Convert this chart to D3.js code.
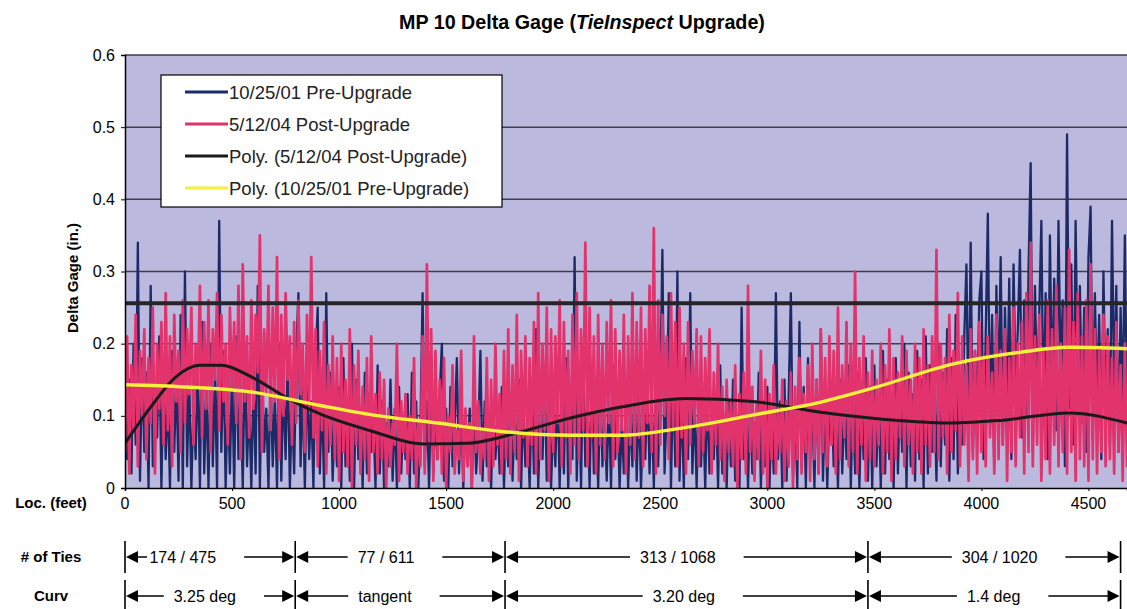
<!DOCTYPE html>
<html><head><meta charset="utf-8">
<script src="https://cdn.jsdelivr.net/npm/d3@7"></script>
<style>body{margin:0;background:#fff;} svg{display:block;font-family:Arial,"Liberation Sans",sans-serif;}</style>
</head><body><svg id="c" width="1127" height="609"></svg>
<script>
// ---------- data (readings every 10 ft) ----------
const stepFeet = 10;
const preValues = [
0.19,0.04,0.15,0.02,0.20,0.06,0.34,0.01,0.18,0.05,
0.16,0.00,0.28,0.03,0.14,0.07,0.21,0.00,0.17,0.04,
0.13,0.00,0.19,0.05,0.16,0.01,0.24,0.00,0.30,0.03,
0.15,0.00,0.12,0.04,0.18,0.00,0.23,0.02,0.14,0.00,
0.20,0.03,0.16,0.00,0.37,0.05,0.19,0.00,0.13,0.02,
0.17,0.00,0.21,0.04,0.14,0.00,0.19,0.03,0.12,0.00,
0.15,0.02,0.28,0.00,0.18,0.05,0.11,0.00,0.16,0.03,
0.13,0.00,0.20,0.01,0.15,0.04,0.18,0.00,0.12,0.02,
0.19,0.27,0.03,0.14,0.00,0.17,0.04,0.12,0.00,0.18,
0.25,0.02,0.13,0.00,0.27,0.05,0.16,0.01,0.11,0.03,
0.14,0.00,0.18,0.03,0.12,0.01,0.20,0.00,0.15,0.04,
0.11,0.00,0.16,0.02,0.13,0.05,0.10,0.00,0.17,0.02,
0.12,0.00,0.09,0.03,0.15,0.01,0.11,0.00,0.14,0.02,
0.10,0.04,0.13,0.00,0.16,0.02,0.12,0.00,0.09,0.27,
0.03,0.12,0.00,0.15,0.02,0.10,0.04,0.13,0.20,0.01,
0.11,0.00,0.14,0.03,0.09,0.18,0.02,0.12,0.00,0.10,
0.04,0.11,0.00,0.13,0.02,0.08,0.19,0.01,0.12,0.03,
0.09,0.00,0.12,0.04,0.10,0.02,0.14,0.00,0.11,0.03,
0.13,0.01,0.10,0.04,0.15,0.00,0.12,0.03,0.09,0.00,
0.14,0.02,0.22,0.00,0.11,0.04,0.16,0.01,0.12,0.00,
0.10,0.03,0.15,0.00,0.13,0.02,0.18,0.00,0.11,0.04,
0.32,0.01,0.14,0.00,0.19,0.03,0.12,0.00,0.16,0.02,
0.11,0.00,0.15,0.03,0.10,0.01,0.13,0.00,0.17,0.04,
0.12,0.00,0.09,0.02,0.14,0.00,0.11,0.03,0.16,0.01,
0.13,0.00,0.10,0.04,0.15,0.02,0.12,0.00,0.18,0.03,
0.14,0.33,0.02,0.11,0.27,0.00,0.16,0.03,0.30,0.01,
0.13,0.00,0.18,0.04,0.27,0.02,0.12,0.00,0.15,0.03,
0.11,0.00,0.14,0.02,0.10,0.04,0.13,0.00,0.17,0.02,
0.09,0.00,0.12,0.03,0.15,0.01,0.10,0.00,0.25,0.04,
0.11,0.00,0.13,0.02,0.09,0.04,0.16,0.00,0.12,0.03,
0.14,0.00,0.10,0.02,0.27,0.04,0.12,0.00,0.15,0.01,
0.13,0.27,0.02,0.11,0.00,0.23,0.03,0.14,0.00,0.18,
0.04,0.12,0.00,0.15,0.02,0.22,0.01,0.13,0.00,0.11,
0.14,0.03,0.10,0.00,0.15,0.02,0.12,0.04,0.17,0.00,
0.13,0.02,0.16,0.00,0.12,0.04,0.18,0.01,0.14,0.00,
0.17,0.03,0.13,0.00,0.19,0.02,0.15,0.04,0.12,0.00,
0.18,0.02,0.14,0.05,0.20,0.00,0.16,0.03,0.13,0.01,
0.19,0.04,0.15,0.00,0.21,0.02,0.17,0.05,0.14,0.01,
0.20,0.03,0.16,0.06,0.22,0.01,0.18,0.04,0.24,0.02,
0.15,0.06,0.21,0.31,0.08,0.34,0.05,0.19,0.10,0.26,
0.30,0.04,0.21,0.38,0.09,0.24,0.03,0.28,0.12,0.32,
0.06,0.25,0.11,0.29,0.04,0.31,0.14,0.22,0.33,0.07,
0.26,0.10,0.30,0.45,0.05,0.28,0.13,0.24,0.37,0.09,
0.27,0.04,0.35,0.12,0.29,0.08,0.37,0.15,0.26,0.03,
0.49,0.11,0.31,0.06,0.37,0.14,0.28,0.09,0.25,0.05,
0.32,0.39,0.07,0.27,0.12,0.24,0.04,0.30,0.10,0.22,
0.06,0.37,0.13,0.28,0.05,0.25,0.11,0.35,0.08,0.30];
const postValues = [
0.05,0.21,0.02,0.17,0.08,0.24,0.03,0.19,0.10,0.22,
0.04,0.18,0.09,0.25,0.02,0.20,0.11,0.23,0.06,0.27,
0.08,0.21,0.03,0.24,0.12,0.19,0.05,0.26,0.09,0.22,
0.13,0.25,0.06,0.20,0.14,0.28,0.07,0.23,0.11,0.26,
0.05,0.22,0.15,0.27,0.08,0.24,0.12,0.20,0.06,0.25,
0.14,0.23,0.09,0.28,0.04,0.31,0.12,0.21,0.07,0.26,
0.11,0.24,0.16,0.35,0.05,0.22,0.13,0.28,0.08,0.25,
0.12,0.32,0.04,0.24,0.10,0.27,0.15,0.21,0.06,0.23,
0.09,0.26,0.13,0.20,0.05,0.24,0.11,0.32,0.07,0.22,
0.03,0.19,0.08,0.23,0.02,0.17,0.06,0.21,0.04,0.18,
0.01,0.20,0.05,0.15,0.03,0.22,0.00,0.17,0.06,0.19,
0.02,0.14,0.04,0.18,0.01,0.21,0.05,0.13,0.02,0.16,
0.04,0.15,0.00,0.11,0.03,0.09,0.06,0.20,0.01,0.12,
0.05,0.13,0.02,0.10,0.04,0.18,0.00,0.09,0.03,0.21,
0.02,0.31,0.06,0.22,0.01,0.19,0.04,0.15,0.02,0.18,
0.00,0.10,0.05,0.17,0.02,0.08,0.04,0.19,0.01,0.11,
0.03,0.09,0.00,0.21,0.05,0.12,0.02,0.08,0.04,0.18,
0.01,0.15,0.03,0.20,0.06,0.13,0.02,0.19,0.04,0.22,
0.02,0.17,0.05,0.24,0.01,0.19,0.07,0.21,0.03,0.18,
0.06,0.23,0.02,0.27,0.04,0.20,0.08,0.25,0.01,0.22,
0.05,0.21,0.09,0.26,0.03,0.23,0.07,0.19,0.02,0.24,
0.06,0.27,0.04,0.22,0.08,0.34,0.03,0.25,0.07,0.21,
0.02,0.24,0.06,0.20,0.04,0.23,0.09,0.26,0.03,0.22,
0.05,0.19,0.08,0.24,0.02,0.21,0.06,0.27,0.04,0.23,
0.07,0.25,0.03,0.22,0.09,0.28,0.05,0.36,0.02,0.26,
0.06,0.24,0.10,0.21,0.04,0.27,0.08,0.23,0.03,0.25,
0.07,0.20,0.02,0.23,0.06,0.19,0.09,0.22,0.03,0.21,
0.05,0.18,0.08,0.22,0.02,0.16,0.06,0.20,0.04,0.14,
0.01,0.15,0.05,0.12,0.03,0.17,0.00,0.13,0.04,0.16,
0.02,0.28,0.05,0.14,0.01,0.12,0.04,0.19,0.02,0.15,
0.00,0.13,0.04,0.17,0.02,0.11,0.05,0.15,0.01,0.12,
0.03,0.16,0.00,0.14,0.04,0.18,0.02,0.13,0.05,0.17,
0.01,0.20,0.04,0.15,0.02,0.22,0.05,0.18,0.03,0.21,
0.06,0.19,0.02,0.25,0.04,0.17,0.07,0.23,0.03,0.20,
0.05,0.30,0.02,0.18,0.06,0.21,0.01,0.16,0.04,0.19,
0.03,0.15,0.06,0.20,0.02,0.17,0.05,0.22,0.01,0.18,
0.04,0.16,0.07,0.21,0.03,0.19,0.06,0.15,0.02,0.20,
0.05,0.18,0.02,0.22,0.06,0.17,0.03,0.21,0.05,0.33,
0.04,0.20,0.07,0.18,0.02,0.24,0.05,0.19,0.08,0.27,
0.03,0.21,0.06,0.17,0.01,0.22,0.04,0.19,0.02,0.23,
0.05,0.18,0.03,0.21,0.07,0.16,0.02,0.24,0.04,0.19,
0.06,0.22,0.01,0.18,0.05,0.25,0.03,0.20,0.07,0.23,
0.02,0.27,0.05,0.34,0.03,0.21,0.06,0.24,0.01,0.19,
0.04,0.26,0.02,0.22,0.06,0.28,0.03,0.20,0.05,0.25,
0.02,0.33,0.05,0.23,0.01,0.27,0.04,0.21,0.03,0.26,
0.01,0.31,0.04,0.22,0.02,0.19,0.05,0.24,0.03,0.21,
0.04,0.18,0.02,0.23,0.05,0.17,0.01,0.20,0.03,0.16];
const postPolyFeet   = [0,120,230,350,450,590,750,900,1150,1400,1600,1850,2080,2330,2620,2930,3250,3480,3860,4100,4410,4680];
const postPolyValues = [0.062,0.112,0.152,0.170,0.170,0.154,0.126,0.104,0.079,0.061,0.062,0.078,0.097,0.113,0.124,0.120,0.105,0.097,0.090,0.094,0.104,0.090];
const prePolyFeet    = [0,280,590,900,1160,1460,1770,2080,2310,2620,2930,3250,3500,3870,4180,4410,4680];
const prePolyValues  = [0.143,0.140,0.133,0.115,0.101,0.090,0.078,0.073,0.073,0.084,0.101,0.119,0.139,0.172,0.188,0.195,0.193];
const referenceLevel = 0.256;
const yTicks = [0,0.1,0.2,0.3,0.4,0.5,0.6];
const xTicks = [0,500,1000,1500,2000,2500,3000,3500,4000,4500];
const sectionBounds = [0,795,1775,3470,4650];
const tiesLabels = ["174 / 475","77 / 611","313 / 1068","304 / 1020"];
const tiesLabelAt = [270,1219,2582,4085];
const curvLabels = ["3.25 deg","tangent","3.20 deg","1.4 deg"];
const curvLabelAt = [373,1214,2610,4057];
const legendLabels = ["10/25/01 Pre-Upgrade","5/12/04 Post-Upgrade","Poly. (5/12/04 Post-Upgrade)","Poly. (10/25/01 Pre-Upgrade)"];
const rowLabels = ["Loc. (feet)","# of Ties","Curv"];

// ---------- layout ----------
const L=125,R=1127,T=55,B=488;
const col = {bg:"#bcb9df", pre:"#1d2a68", post:"#e3336c", polyPost:"#1a1a1a", polyPre:"#f4f03c", grid:"#3c3c50"};
const svg=d3.select("#c");
const x=d3.scaleLinear().domain([0,4680]).range([L,R]);
const y=d3.scaleLinear().domain([0,0.6]).range([B,T]);

svg.append("rect").attr("x",L).attr("y",T).attr("width",R-L).attr("height",B-T).attr("fill",col.bg);
svg.append("defs").append("clipPath").attr("id","clip").append("rect").attr("x",L).attr("y",T-2).attr("width",R-L).attr("height",B-T+2);

svg.append("g").selectAll("line").data(yTicks.filter(d=>d>0)).join("line")
  .attr("x1",L).attr("x2",R).attr("y1",d=>y(d)).attr("y2",d=>y(d))
  .attr("stroke",col.grid).attr("stroke-width",1.5);

const g=svg.append("g").attr("clip-path","url(#clip)");
const series=(vals)=>vals.map((v,i)=>[i*stepFeet,v]);
const ln=d3.line().x(d=>x(d[0])).y(d=>y(d[1]));
g.append("path").attr("d",ln(series(preValues))).attr("fill","none").attr("stroke",col.pre).attr("stroke-width",2.3).attr("stroke-linejoin","round");
g.append("path").attr("d",ln(series(postValues))).attr("fill","none").attr("stroke",col.post).attr("stroke-width",2.7).attr("stroke-linejoin","round");
const sm=d3.line().x(d=>x(d[0])).y(d=>y(d[1])).curve(d3.curveMonotoneX);
g.append("path").attr("d",sm(postPolyFeet.map((f,i)=>[f,postPolyValues[i]]))).attr("fill","none").attr("stroke",col.polyPost).attr("stroke-width",3);
g.append("path").attr("d",sm(prePolyFeet.map((f,i)=>[f,prePolyValues[i]]))).attr("fill","none").attr("stroke",col.polyPre).attr("stroke-width",3.4);
g.append("line").attr("x1",L).attr("x2",R).attr("y1",y(referenceLevel)).attr("y2",y(referenceLevel)).attr("stroke","#262626").attr("stroke-width",4);

const ya=svg.append("g").attr("transform",`translate(${L},0)`).call(d3.axisLeft(y).tickValues(yTicks).tickSize(4).tickFormat(d3.format("~g")));
ya.select(".domain").attr("stroke","#000").attr("stroke-width",1.5);
ya.selectAll("text").attr("font-size",16).attr("font-family","Arial").attr("fill","#000").attr("x",-10);
const xa=svg.append("g").attr("transform",`translate(0,${B})`).call(d3.axisBottom(x).tickValues(xTicks).tickSize(3).tickFormat(""));
xa.select(".domain").attr("stroke","#000").attr("stroke-width",1.5);

const title=svg.append("text").attr("x",582).attr("y",29).attr("text-anchor","middle")
  .attr("font-family","'Liberation Sans Narrow','Arial Narrow',Arial").attr("font-weight","bold").attr("font-size",19.7);
title.append("tspan").text("MP 10 Delta Gage (");
title.append("tspan").attr("font-style","italic").text("TieInspect");
title.append("tspan").text(" Upgrade)");

svg.append("text").attr("transform","translate(78,278) rotate(-90)").attr("text-anchor","middle")
  .attr("font-weight","bold").attr("font-size",15).attr("font-family","'Liberation Sans Narrow',Arial").text("Delta Gage (in.)");

const lg=svg.append("g");
lg.append("rect").attr("x",161).attr("y",75).attr("width",341).attr("height",132).attr("fill","#fff").attr("stroke","#000").attr("stroke-width",1.2);
const lcol=[col.pre,col.post,col.polyPost,col.polyPre];
legendLabels.forEach((t,i)=>{
  const yy=92+i*32;
  lg.append("line").attr("x1",185).attr("x2",228).attr("y1",yy).attr("y2",yy).attr("stroke",lcol[i]).attr("stroke-width",3);
  lg.append("text").attr("x",229).attr("y",yy+6.5).attr("font-size",18.5).attr("fill","#222").text(t);
});

const rowY=[503,557,596];
svg.selectAll(".rowlab").data(rowLabels).join("text").attr("x",51).attr("y",(d,i)=>rowY[i]+5)
  .attr("text-anchor","middle").attr("font-weight","bold").attr("font-size",15).attr("font-family","'Liberation Sans Narrow',Arial").text(d=>d);
svg.selectAll(".xlab").data(xTicks).join("text").attr("x",d=>x(d)).attr("y",rowY[0]+6).attr("text-anchor","middle")
  .attr("font-size",16).text(d=>d);

function arrowRow(labels,labelAt,cy){
  const gr=svg.append("g");
  sectionBounds.forEach(b=>{
    gr.append("line").attr("x1",x(b)).attr("x2",x(b)).attr("y1",cy-16).attr("y2",cy+16).attr("stroke","#000").attr("stroke-width",1.6);
  });
  labels.forEach((t,i)=>{
    const a=x(sectionBounds[i]), b=x(sectionBounds[i+1]);
    const tx=gr.append("text").attr("x",x(labelAt[i])).attr("y",cy+6).attr("text-anchor","middle").attr("font-size",16).text(t);
    const w=tx.node().getComputedTextLength();
    const tl=x(labelAt[i])-w/2, tr=x(labelAt[i])+w/2;
    gr.append("path").attr("d",`M${a+1},${cy}L${a+13},${cy-6}L${a+13},${cy+6}Z`).attr("fill","#000");
    gr.append("path").attr("d",`M${b-1},${cy}L${b-13},${cy-6}L${b-13},${cy+6}Z`).attr("fill","#000");
    gr.append("line").attr("x1",a+12).attr("x2",Math.max(a+22,tl-10)).attr("y1",cy).attr("y2",cy).attr("stroke","#000").attr("stroke-width",1.5);
    gr.append("line").attr("x1",Math.min(b-22,tr+28)).attr("x2",b-12).attr("y1",cy).attr("y2",cy).attr("stroke","#000").attr("stroke-width",1.5);
  });
}
arrowRow(tiesLabels,tiesLabelAt,rowY[1]);
arrowRow(curvLabels,curvLabelAt,rowY[2]);
</script></body></html>
